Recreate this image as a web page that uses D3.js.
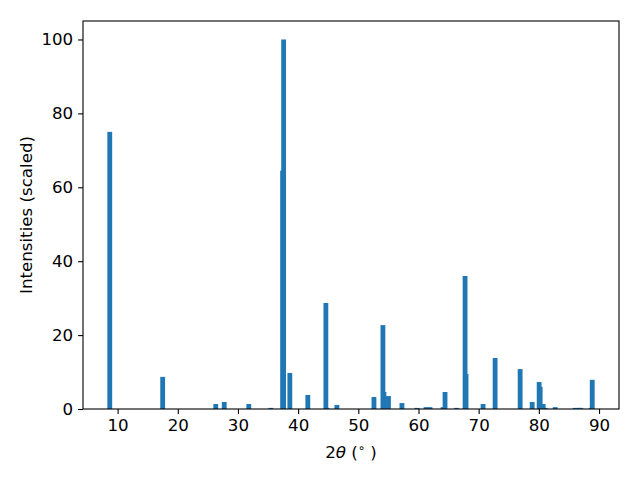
<!DOCTYPE html>
<html>
<head>
<meta charset="utf-8">
<script src="https://cdn.jsdelivr.net/npm/d3@7"></script>
<style>
  body { margin: 0; background: #fff; }
  svg { display: block; }
</style>
</head>
<body>
<div id="chart"></div>
<script>
// Peak positions (2θ, degrees) and scaled intensities
const twoTheta = [
  8.70, 17.49, 26.31, 27.72, 31.80, 35.46, 37.42, 37.59, 38.62, 41.61,
  44.61, 44.78, 46.44, 52.60, 54.09, 54.26, 55.01, 57.25, 59.75, 61.25,
  61.91, 64.08, 64.41, 66.32, 67.74, 67.90, 70.73, 72.73, 76.89, 78.89,
  80.05, 80.22, 80.72, 81.05, 82.71, 86.04, 86.71, 86.96, 88.70, 88.87
];
const intensity = [
  75.0, 8.7, 1.35, 1.9, 1.35, 0.3, 64.5, 100.0, 9.75, 3.8,
  28.7, 0.3, 1.1, 3.25, 22.7, 4.6, 3.5, 1.6, 0.3, 0.5,
  0.5, 0.5, 4.6, 0.3, 36.0, 9.5, 1.35, 13.8, 10.8, 1.9,
  7.3, 6.0, 1.35, 0.3, 0.5, 0.3, 0.3, 0.3, 0.3, 7.9
];
const xTicks = [10, 20, 30, 40, 50, 60, 70, 80, 90];
const yTicks = [0, 20, 40, 60, 80, 100];

const W = 640, H = 480;
const M = { left: 83, right: 21, top: 21, bottom: 71 };
const BAR_W = 0.8;
const FONT = '"DejaVu Sans", sans-serif';
const FS = 16.67;

const peaks = twoTheta.map((t, i) => ({ t, v: intensity[i] }));

// matplotlib-style auto limits: 5% margins on x, 0..max*1.05 on y
const lo = d3.min(twoTheta) - BAR_W / 2;
const hi = d3.max(twoTheta) + BAR_W / 2;
const pad = (hi - lo) * 0.05;

const x = d3.scaleLinear().domain([lo - pad, hi + pad]).range([M.left, W - M.right]);
const y = d3.scaleLinear().domain([0, d3.max(intensity) * 1.05]).range([H - M.bottom, M.top]);

const svg = d3.select('#chart').append('svg')
  .attr('width', W).attr('height', H)
  .attr('viewBox', `0 0 ${W} ${H}`);

svg.append('rect').attr('width', W).attr('height', H).attr('fill', '#fff');

// Bars
svg.append('g').selectAll('rect')
  .data(peaks)
  .join('rect')
  .attr('x', d => x(d.t - BAR_W / 2))
  .attr('width', d => x(d.t + BAR_W / 2) - x(d.t - BAR_W / 2))
  .attr('y', d => y(d.v))
  .attr('height', d => y(0) - y(d.v))
  .attr('fill', '#1f77b4');

// Axes
const xAxis = svg.append('g')
  .attr('transform', `translate(0,${H - M.bottom})`)
  .call(d3.axisBottom(x).tickValues(xTicks).tickSize(4.9).tickPadding(4.9));
const yAxis = svg.append('g')
  .attr('transform', `translate(${M.left},0)`)
  .call(d3.axisLeft(y).tickValues(yTicks).tickSize(4.9).tickPadding(4.9));

for (const ax of [xAxis, yAxis]) {
  ax.select('.domain').remove();
  ax.selectAll('line').attr('stroke', '#000').attr('stroke-width', 1.1);
  ax.selectAll('text')
    .attr('font-family', FONT).attr('font-size', FS).attr('fill', '#000');
}

// Frame (spines)
svg.append('rect')
  .attr('x', M.left).attr('y', M.top)
  .attr('width', W - M.left - M.right).attr('height', H - M.top - M.bottom)
  .attr('fill', 'none').attr('stroke', '#000').attr('stroke-width', 1.1);

// X label: 2θ (°)
const xl = svg.append('text')
  .attr('x', (M.left + W - M.right) / 2).attr('y', 458)
  .attr('text-anchor', 'middle')
  .attr('font-family', FONT).attr('font-size', FS).attr('fill', '#000');
xl.append('tspan').text('2');
xl.append('tspan').attr('font-style', 'italic').text('θ');
xl.append('tspan').text(' (');
xl.append('tspan').attr('font-size', FS * 0.7).attr('dy', -6).text('∘');
xl.append('tspan').attr('dy', 6).text(' )');

// Y label
svg.append('text')
  .attr('transform', `translate(32,${(M.top + H - M.bottom) / 2}) rotate(-90)`)
  .attr('text-anchor', 'middle')
  .attr('font-family', FONT).attr('font-size', FS).attr('fill', '#000')
  .text('Intensities (scaled)');
</script>
</body>
</html>
